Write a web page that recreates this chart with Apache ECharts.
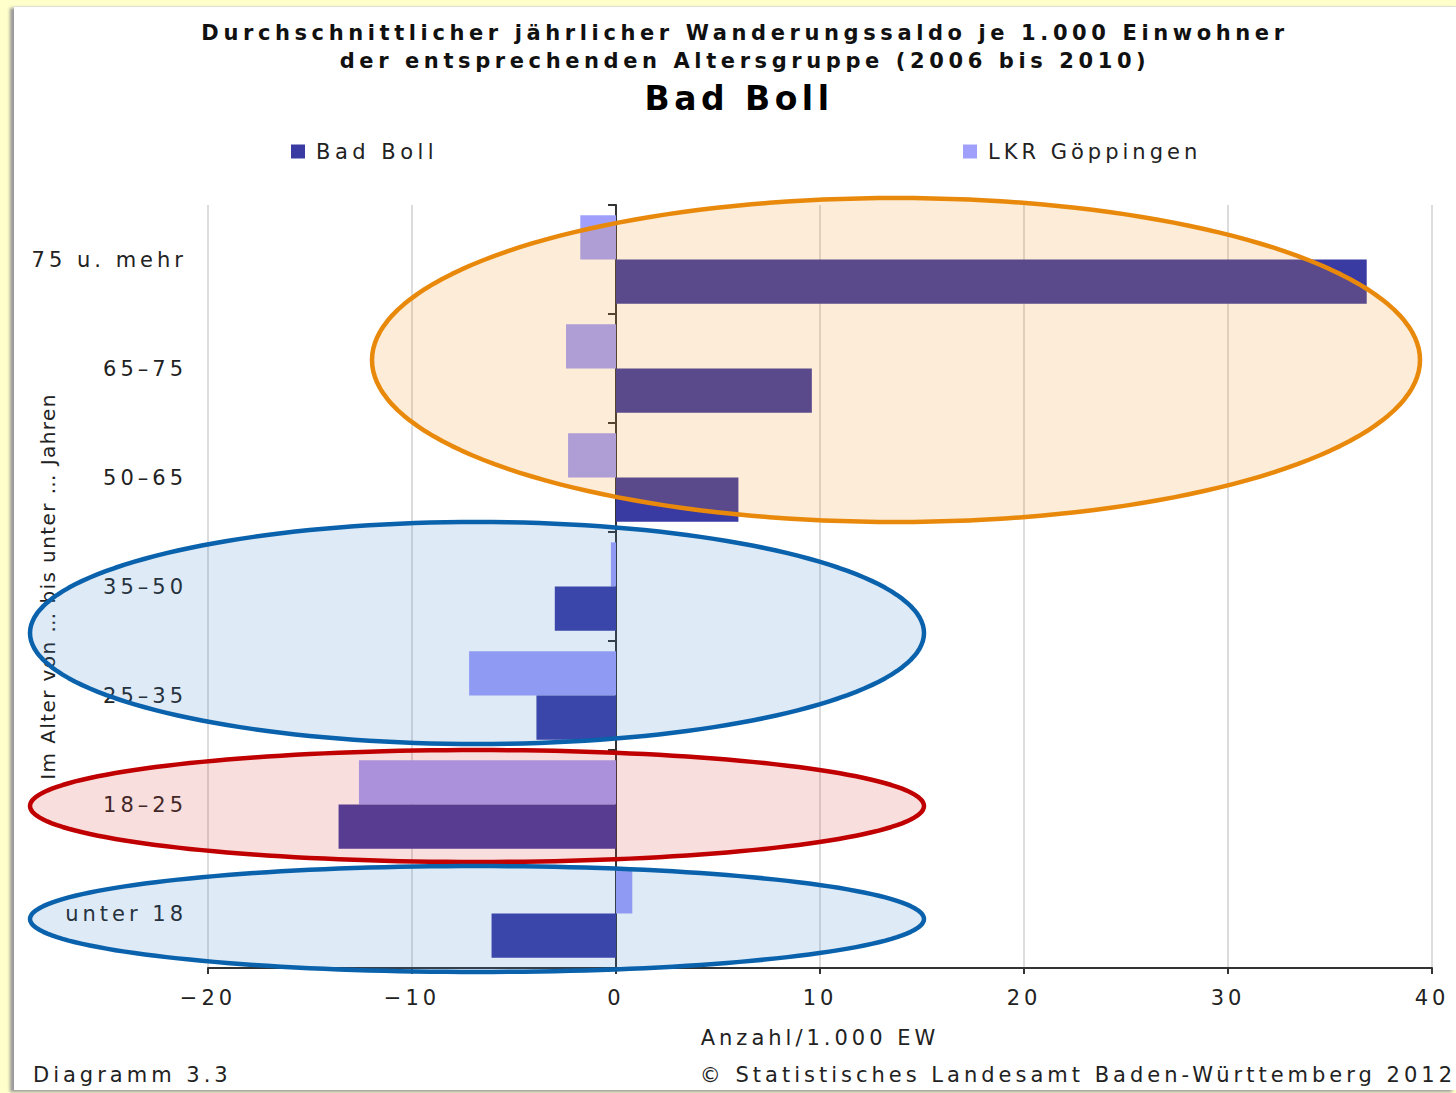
<!DOCTYPE html>
<html>
<head>
<meta charset="utf-8">
<script src="https://cdn.jsdelivr.net/npm/echarts@6/dist/echarts.min.js"></script>
<style>
  html, body { margin:0; padding:0; background:#ffffcc; width:1456px; height:1093px; overflow:hidden; }
  #panel { position:absolute; left:14px; top:6px; width:1442px; height:1083px; background:#fff;
           border-top:1px solid #e0e0d8; box-shadow:-4px 2px 3px #9a9a9a; }
  #chart { position:absolute; left:0; top:0; width:1456px; height:1093px; }
  #chart text { letter-spacing:4px; }
</style>
</head>
<body>
<div id="panel"></div>
<div id="chart"></div>
<script>
// Categories (bottom to top)
const categories = ['unter 18', '18–25', '25–35', '35–50', '50–65', '65–75', '75 u. mehr'];
// Series values (Anzahl je 1.000 EW)
const badBoll = [-6.1, -13.6, -3.9, -3.0, 6.0, 9.6, 36.8];
const lkrGoeppingen = [0.8, -12.6, -7.2, -0.25, -2.35, -2.45, -1.75];
const xTicks = { min: -20, max: 40, step: 10 };

const FONT = '"DejaVu Sans", Verdana, sans-serif';
const Y_NAME = 'Im Alter von … bis unter … Jahren';
const TITLE1 = 'Durchschnittlicher jährlicher Wanderungssaldo je 1.000 Einwohner';
const TITLE2 = 'der entsprechenden Altersgruppe (2006 bis 2010)';
const TITLE3 = 'Bad Boll';
const chart = echarts.init(document.getElementById('chart'), null, { renderer: 'svg' });

// annotation outline (not data): an ellipse outline as a closed polygon
function ellipse(cx, cy, rx, ry, fill, stroke) {
  const pts = [];
  const n = 180;
  for (let i = 0; i < n; i++) {
    const a = (i / n) * Math.PI * 2;
    pts.push([cx + rx * Math.cos(a), cy + ry * Math.sin(a)]);
  }
  return { type: 'polygon', z: 100, shape: { points: pts },
    style: { fill: fill, stroke: stroke, lineWidth: 4.5, lineJoin: 'round' } };
}

const option = {
  backgroundColor: 'transparent',
  animation: false,
  legend: [
    { data: ['Bad Boll'], left: 286, top: 136, icon: 'rect', itemWidth: 14, itemHeight: 14,
      textStyle: { fontFamily: FONT, fontSize: 21, color: '#222', padding: [0, 0, 0, 6] } },
    { data: ['LKR Göppingen'], left: 958, top: 136, icon: 'rect', itemWidth: 14, itemHeight: 14,
      textStyle: { fontFamily: FONT, fontSize: 21, color: '#222', padding: [0, 0, 0, 6] } }
  ],
  grid: { left: 208, right: 24, top: 205, bottom: 125, containLabel: false },
  xAxis: {
    type: 'value', min: xTicks.min, max: xTicks.max, interval: xTicks.step,
    axisLine: { show: true, onZero: false, lineStyle: { color: '#333', width: 2 } },
    axisTick: { show: true, length: 6, lineStyle: { color: '#333', width: 2 } },
    axisLabel: { fontFamily: FONT, fontSize: 21, color: '#222', margin: 19,
      formatter: v => String(v).replace('-', '\u2212') },
    splitLine: { show: true, lineStyle: { color: '#dcdcdc', width: 2 } },
    name: 'Anzahl/1.000 EW', nameLocation: 'middle', nameGap: 59,
    nameTextStyle: { fontFamily: FONT, fontSize: 21, color: '#222' }
  },
  yAxis: [
    {
      type: 'category', data: categories, position: 'left',
      axisLine: { show: false, onZero: false },
      axisTick: { show: false },
      axisLabel: { fontFamily: FONT, fontSize: 21, color: '#222', margin: 21 },
      splitLine: { show: false },
      name: Y_NAME, nameLocation: 'middle', nameRotate: 90, nameGap: 150,
      nameTextStyle: { fontFamily: FONT, fontSize: 20, color: '#222' }
    },
    {
      type: 'category', data: categories, position: 'left',
      axisLine: { show: true, onZero: true, lineStyle: { color: '#333', width: 2 } },
      axisTick: { show: true, length: 8, lineStyle: { color: '#333', width: 2 } },
      axisLabel: { show: false },
      splitLine: { show: false }
    }
  ],
  series: [
    { name: 'LKR Göppingen', type: 'bar', yAxisIndex: 0, data: lkrGoeppingen,
      itemStyle: { color: '#a0a0fc' }, barGap: '0%', barCategoryGap: '19%' },
    { name: 'Bad Boll', type: 'bar', yAxisIndex: 0, data: badBoll,
      itemStyle: { color: '#3a3aa3' }, barGap: '0%', barCategoryGap: '19%' }
  ],
  graphic: [
    { type: 'text', x: 745, y: 33, z: 10, style: { text: TITLE1,
      font: 'bold 21px ' + FONT, fill: '#111', textAlign: 'center', textVerticalAlign: 'middle' } },
    { type: 'text', x: 745, y: 61, z: 10, style: { text: TITLE2,
      font: 'bold 21px ' + FONT, fill: '#111', textAlign: 'center', textVerticalAlign: 'middle' } },
    { type: 'text', x: 739, y: 98, z: 10, style: { text: TITLE3,
      font: 'bold 33px ' + FONT, fill: '#000', textAlign: 'center', textVerticalAlign: 'middle' } },
    { type: 'text', x: 33, y: 1075, z: 10, style: { text: 'Diagramm 3.3',
      font: '21px ' + FONT, fill: '#222', textAlign: 'left', textVerticalAlign: 'middle' } },
    { type: 'text', x: 1456, y: 1075, z: 10, style: { text: '© Statistisches Landesamt Baden-Württemberg 2012',
      font: '21px ' + FONT, fill: '#222', textAlign: 'right', textVerticalAlign: 'middle' } },
    // annotation ellipses
    ellipse(896, 360, 524, 162, 'rgba(240,150,40,0.18)', '#e8890c'),
    ellipse(477, 633, 447, 111, 'rgba(60,130,200,0.17)', '#0a62ac'),
    ellipse(477, 806, 447, 56, 'rgba(220,70,70,0.18)', '#c00000'),
    ellipse(477, 919, 447, 53, 'rgba(60,130,200,0.17)', '#0a62ac')
  ]
};
chart.setOption(option);
document.querySelectorAll('#chart text').forEach(t => {
  const s = t.textContent;
  if (s === Y_NAME) t.style.letterSpacing = '1.4px';
  else if (s === TITLE1 || s === TITLE2) t.style.letterSpacing = '4.6px';
  else if (s === TITLE3) t.style.letterSpacing = '4.5px';
});
</script>
</body>
</html>
